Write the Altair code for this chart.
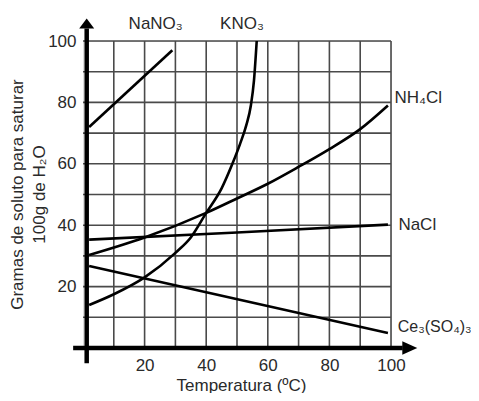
import altair as alt
import pandas as pd

# ---- data ----
temps_nano3 = [2, 29]
vals_nano3 = [72, 97]
temps_kno3 = [2, 10, 20, 30, 35, 40, 45, 48.5, 51, 53, 54.5, 55.5, 56.4]
vals_kno3 = [14, 17.5, 23, 31, 36, 44, 52, 60, 66.5, 72.5, 79, 87, 100]
temps_nh4cl = [2, 20, 40, 50, 60, 70, 80, 90, 99]
vals_nh4cl = [30.3, 36, 44, 48.7, 53.5, 59, 64.8, 71.3, 79]
temps_nacl = [2, 50, 99]
vals_nacl = [35.3, 37.6, 40.2]
temps_ce = [2, 99]
vals_ce = [26.7, 4.9]

series_names = ["NaNO3", "KNO3", "NH4Cl", "NaCl", "Ce"]

top_labels = ["NaNO₃", "KNO₃"]
top_label_t = [23.6, 51.6]
top_label_v = [105.6, 105.6]

side_labels = ["NH₄Cl", "NaCl"]
side_label_t = [101.1, 102.4]
side_label_v = [81.3, 40.0]

ce_label = ["Ce₃(SO₄)₃"]
ce_label_t = [102.2]
ce_label_v = [6.8]

grid_values = list(range(10, 101, 10))
tick_labels = [20, 40, 60, 80, 100]

x_title = "Temperatura (ºC)"
y_title = ["Gramas de soluto para saturar", "100g de H₂O"]

# ---- tables ----
rows = []
for name, ts, vs in zip(series_names,
                        [temps_nano3, temps_kno3, temps_nh4cl, temps_nacl, temps_ce],
                        [vals_nano3, vals_kno3, vals_nh4cl, vals_nacl, vals_ce]):
    for i, (t, v) in enumerate(zip(ts, vs)):
        rows.append({"s": name, "t": t, "v": v, "o": i})
curves = pd.DataFrame(rows)

grid_df = pd.DataFrame({"g": grid_values, "lo": 0, "hi": 100})
top_df = pd.DataFrame({"t": top_label_t, "v": top_label_v, "txt": top_labels})
side_df = pd.DataFrame({"t": side_label_t, "v": side_label_v, "txt": side_labels})
ce_df = pd.DataFrame({"t": ce_label_t, "v": ce_label_v, "txt": ce_label})

FONT = "Liberation Sans"
TXT = "#2a2a2a"
xs = alt.Scale(domain=[0, 100], nice=False, zero=False)
ys = alt.Scale(domain=[0, 100], nice=False, zero=False)

xaxis = alt.Axis(values=tick_labels, title=x_title, grid=False, domain=False, ticks=False,
                 labelFontSize=17, labelPadding=9, labelColor=TXT, labelFont=FONT,
                 labelFlush=False, labelOverlap=False,
                 titleFont=FONT, titleFontSize=17, titleFontWeight="normal", titleColor=TXT,
                 titleX=158, titleY=42, titleBaseline="alphabetic", titleAlign="center")
yaxis = alt.Axis(values=tick_labels, title=y_title, grid=False, domain=False, ticks=False,
                 labelFontSize=17, labelPadding=7, labelColor=TXT, labelFont=FONT,
                 labelFlush=False, labelOverlap=False,
                 titleFont=FONT, titleFontSize=17, titleFontWeight="normal", titleColor=TXT,
                 titleAngle=-90, titleX=-61, titleY=153, titleBaseline="alphabetic",
                 titleAlign="center", titleLineHeight=22)


def X(f):
    return alt.X(f, type="quantitative", scale=xs, axis=xaxis)


def Y(f):
    return alt.Y(f, type="quantitative", scale=ys, axis=yaxis)


GRID = "#4a4a4a"
vgrid = alt.Chart(grid_df).mark_rule(color=GRID, strokeWidth=1.6).encode(
    x=X("g"), y=Y("lo"), y2="hi")
hgrid = alt.Chart(grid_df).mark_rule(color=GRID, strokeWidth=1.6).encode(
    y=Y("g"), x=X("lo"), x2="hi")

# axis arrows (structural, in data units)
xaxis_df = pd.DataFrame({"a": [-3.2], "b": [103.8], "y": [0]})
yaxis_df = pd.DataFrame({"a": [-5], "b": [104.1], "x": [1.2]})
xline = alt.Chart(xaxis_df).mark_rule(color="black", strokeWidth=4.5).encode(
    x=X("a"), x2="b", y=Y("y"))
yline = alt.Chart(yaxis_df).mark_rule(color="black", strokeWidth=4.5).encode(
    y=Y("a"), y2="b", x=X("x"))
rarrow = alt.Chart(pd.DataFrame({"x": [106.1], "y": [0]})).mark_point(
    shape="M-1,-0.9L1,0L-1,0.9Z", size=225, filled=True, color="black", opacity=1).encode(
    x=X("x"), y=Y("y"))
uarrow = alt.Chart(pd.DataFrame({"x": [1.2], "y": [105.7]})).mark_point(
    shape="M-1,0.67L0,-0.67L1,0.67Z", size=225, filled=True, color="black", opacity=1).encode(
    x=X("x"), y=Y("y"))

lines = alt.Chart(curves).mark_line(interpolate="monotone", color="black", strokeWidth=2.6).encode(
    x=X("t"), y=Y("v"), detail="s:N", order="o:Q")

top_text = alt.Chart(top_df).mark_text(font=FONT, fontSize=17, color=TXT, align="center",
                                       baseline="middle").encode(
    x=X("t"), y=Y("v"), text="txt:N")
side_text = alt.Chart(side_df).mark_text(font=FONT, fontSize=17, color=TXT, align="left",
                                         baseline="middle").encode(
    x=X("t"), y=Y("v"), text="txt:N")
ce_text = alt.Chart(ce_df).mark_text(font=FONT, fontSize=16, color=TXT, align="left",
                                     baseline="middle").encode(
    x=X("t"), y=Y("v"), text="txt:N")

chart = alt.layer(vgrid, hgrid, lines, xline, yline, rarrow, uarrow,
                  top_text, side_text, ce_text).properties(
    width=308, height=307,
    autosize=alt.AutoSizeParams(type="none"),
    padding={"left": 75, "top": 33, "right": 80, "bottom": 45},
).configure_view(stroke=None).configure(font=FONT)

chart.save("out.html", embed_options={"renderer": "svg", "actions": False})
